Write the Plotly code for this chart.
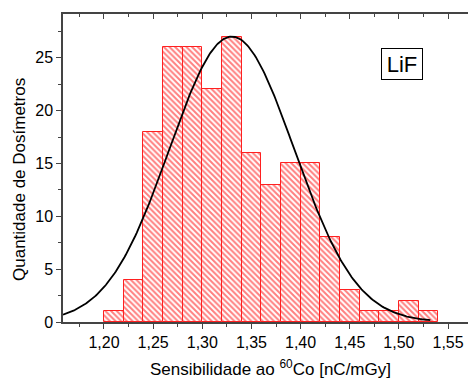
import numpy as np
import plotly.graph_objects as go

# Histogram bins (left edges) and counts
bin_left = [1.20, 1.22, 1.24, 1.26, 1.28, 1.30, 1.32, 1.34, 1.36, 1.38,
            1.40, 1.42, 1.44, 1.46, 1.48, 1.50, 1.52]
counts = [1, 4, 18, 26, 26, 22, 27, 16, 13, 15, 15, 8, 3, 1, 1, 2, 1]
bin_width = 0.02

# Gaussian fit parameters
fit_center = 1.33
fit_sigma = 0.0634
fit_amp = 27.0
fit_start = 1.1583
fit_end = 1.532

x_ticks = [1.20, 1.25, 1.30, 1.35, 1.40, 1.45, 1.50, 1.55]
y_ticks = [0, 5, 10, 15, 20, 25]

x_range = [1.1583, 1.5703]
y_range = [0, 29.14]

centers = [b + bin_width / 2 for b in bin_left]
fx = np.linspace(fit_start, fit_end, 300)
fy = fit_amp * np.exp(-(fx - fit_center) ** 2 / (2 * fit_sigma ** 2))

FONT = "Liberation Sans, Arial, sans-serif"
AX = "#444444"

fig = go.Figure()
fig.add_trace(go.Bar(
    x=centers, y=counts, width=bin_width,
    marker=dict(color="white",
                line=dict(color="#ff2020", width=1),
                pattern=dict(shape="\\", fgcolor="#ff0000", bgcolor="white",
                             size=4, solidity=0.5)),
    showlegend=False, hoverinfo="skip"))
fig.add_trace(go.Scatter(x=fx, y=fy, mode="lines",
                         line=dict(color="black", width=1.8),
                         showlegend=False, hoverinfo="skip"))
# invisible trace so the top axis is drawn
fig.add_trace(go.Scatter(x=[x_range[0]], y=[0], xaxis="x2", mode="markers",
                         marker=dict(opacity=0, size=1), showlegend=False,
                         hoverinfo="skip"))

fig.update_layout(
    width=468, height=378,
    margin=dict(l=63, r=0, t=14, b=56),
    paper_bgcolor="white", plot_bgcolor="white",
    separators=",.",
    bargap=0,
    font=dict(family=FONT, size=16, color="black"),
    xaxis=dict(range=x_range, tickvals=x_ticks, tickformat=".2f",
               showgrid=False, zeroline=False, showline=True,
               linecolor=AX, linewidth=1.5,
               ticks="outside", ticklen=5, tickwidth=1.2, tickcolor=AX,
               minor=dict(ticks="outside", ticklen=3, tickcolor=AX,
                          tick0=1.175, dtick=0.05, showgrid=False),
               tickfont=dict(size=16)),
    xaxis2=dict(range=x_range, overlaying="x", side="top",
                tickvals=x_ticks, showticklabels=False,
                showgrid=False, zeroline=False, showline=True,
                linecolor=AX, linewidth=1.5,
                ticks="inside", ticklen=5, tickwidth=1.2, tickcolor=AX,
                minor=dict(ticks="inside", ticklen=3, tickcolor=AX,
                           tick0=1.175, dtick=0.05, showgrid=False)),
    yaxis=dict(range=y_range, tickvals=y_ticks,
               showgrid=False, zeroline=False, showline=True,
               linecolor=AX, linewidth=1.5,
               ticks="outside", ticklen=5, tickwidth=1.2, tickcolor=AX,
               minor=dict(ticks="outside", ticklen=3, tickcolor=AX,
                          tick0=2.5, dtick=5, showgrid=False),
               tickfont=dict(size=16)),
    annotations=[
        dict(text="LiF", xref="paper", yref="paper", x=0.837, y=0.8377,
             xanchor="center", yanchor="middle", showarrow=False,
             font=dict(size=22, family=FONT, color="black"),
             bordercolor="black", borderwidth=1, borderpad=1,
             bgcolor="white", width=38, height=28),
        dict(text="Sensibilidade ao <sup>60</sup>Co [nC/mGy]",
             xref="paper", yref="paper", x=0.5 + 5 / 405, y=-46 / 308,
             xanchor="center", yanchor="middle", showarrow=False,
             font=dict(size=17, family=FONT, color="black")),
        dict(text="Quantidade de Dosímetros", textangle=-90,
             xref="paper", yref="paper", x=-44 / 405, y=0.5 - 12 / 308,
             xanchor="center", yanchor="middle", showarrow=False,
             font=dict(size=17, family=FONT, color="black")),
    ],
)

fig.write_html("out.html", config={"displayModeBar": False},
               post_script="document.body.style.margin='0';")
